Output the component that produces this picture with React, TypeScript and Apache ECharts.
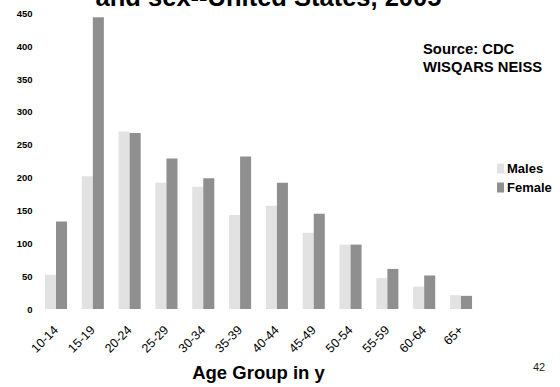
import React, { useEffect, useRef } from "react";
import * as echarts from "echarts";

const categories = ["10-14", "15-19", "20-24", "25-29", "30-34", "35-39", "40-44", "45-49", "50-54", "55-59", "60-64", "65+"];
const males = [52, 202, 270, 192, 186, 143, 157, 116, 98, 47, 34, 21];
const female = [133, 444, 268, 229, 199, 232, 192, 145, 98, 61, 51, 20];
const yTicks = [0, 50, 100, 150, 200, 250, 300, 350, 400, 450];

const FONT = "Liberation Sans, Arial, Helvetica, sans-serif";

export default function App() {
  const ref = useRef<HTMLDivElement>(null);
  useEffect(() => {
    if (!ref.current) return;
    const chart = echarts.init(ref.current, undefined, { renderer: "svg" });
    chart.setOption({
      animation: false,
      backgroundColor: "#ffffff",
      textStyle: { fontFamily: FONT },
      grid: { left: 37.6, right: 80.6, top: 13.3, bottom: 74.7, containLabel: false },
      legend: {
        orient: "vertical",
        left: 497,
        top: 162,
        padding: 0,
        itemWidth: 7,
        itemHeight: 10,
        itemGap: 6,
        itemStyle: { borderWidth: 0 },
        textStyle: { fontFamily: FONT, fontSize: 13, fontWeight: "bold", color: "#000", lineHeight: 13, padding: [0, 0, 0, -2] },
        icon: "rect",
        data: ["Males", "Female"],
      },
      xAxis: {
        type: "category",
        data: categories,
        axisLine: { show: false },
        axisTick: { show: false },
        axisLabel: { rotate: 45, margin: 19, fontSize: 12.5, color: "#000000", fontFamily: FONT, interval: 0 },
        name: "Age Group in y",
        nameLocation: "middle",
        nameGap: 54,
        nameTextStyle: { fontSize: 18.5, fontWeight: "bold", color: "#000", fontFamily: FONT },
      },
      yAxis: {
        type: "value",
        min: yTicks[0],
        max: yTicks[yTicks.length - 1],
        interval: 50,
        splitLine: { show: false },
        axisLine: { show: false },
        axisTick: { show: false },
        axisLabel: { fontSize: 9.5, fontWeight: "bold", color: "#000", fontFamily: FONT, margin: 5 },
      },
      series: [
        {
          name: "Males",
          type: "bar",
          data: males,
          barGap: "0%",
          barCategoryGap: "40%",
          itemStyle: { color: "#e2e2e2" },
        },
        {
          name: "Female",
          type: "bar",
          data: female,
          barGap: "0%",
          barCategoryGap: "40%",
          itemStyle: { color: "#8f8f8f" },
        },
      ],
      graphic: [
        {
          type: "text",
          x: 268.5,
          y: -3,
          style: {
            text: "and sex--United States, 2005",
            font: `bold 25.5px ${FONT}`,
            fill: "#000",
            textAlign: "center",
            textVerticalAlign: "middle",
          },
        },
        {
          type: "text",
          x: 423,
          y: 39.6,
          style: {
            text: "Source: CDC\nWISQARS NEISS",
            font: `bold 14.8px ${FONT}`,
            lineHeight: 18,
            fill: "#000",
            textAlign: "left",
            textVerticalAlign: "top",
          },
        },
        {
          type: "text",
          x: 533,
          y: 366.5,
          style: {
            text: "42",
            font: `11px ${FONT}`,
            fill: "#222",
            textAlign: "left",
            textVerticalAlign: "middle",
          },
        },
      ],
    });
    return () => chart.dispose();
  }, []);
  return <div ref={ref} style={{ width: 560, height: 387, position: "absolute", left: 0, top: 0 }} />;
}
